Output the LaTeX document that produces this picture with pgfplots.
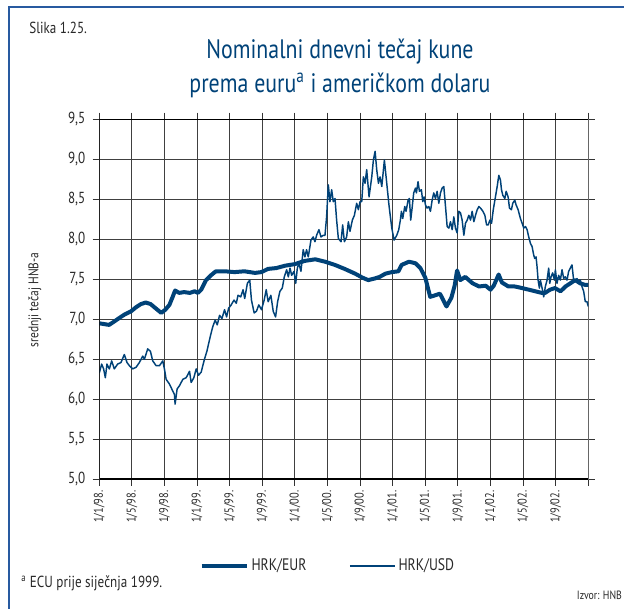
\documentclass[border=0pt]{standalone}
\usepackage{pgfplots}
\pgfplotsset{compat=1.18}
\usepackage{pgfplotstable}
\usepackage{fontspec}
\setmainfont{PT Sans}[FakeStretch=0.82]
\definecolor{hnb}{RGB}{0,66,120}
\definecolor{frameblue}{RGB}{40,90,160}
\definecolor{txt}{RGB}{40,40,40}

\pgfplotstableread{
m v
0 6.95
0.6 6.94
1.2 6.93
1.8 6.97
2.5 7.02
3.1 7.06
3.9 7.10
4.5 7.15
5.1 7.19
5.7 7.21
6.3 7.19
7.0 7.13
7.6 7.08
8.1 7.12
8.6 7.18
9.0 7.28
9.3 7.36
9.8 7.33
10.4 7.34
11.1 7.33
11.7 7.35
12.1 7.33
12.5 7.37
13.1 7.49
13.7 7.55
14.3 7.60
15.4 7.60
16.6 7.59
17.8 7.60
19.1 7.58
19.9 7.59
20.7 7.63
21.7 7.64
22.8 7.67
24.0 7.69
25.2 7.73
26.5 7.75
27.7 7.72
28.9 7.68
30.1 7.63
31.4 7.57
32.3 7.52
33.0 7.49
33.8 7.51
34.4 7.53
35.1 7.57
35.9 7.59
36.7 7.60
37.1 7.68
38.0 7.72
38.8 7.70
39.4 7.64
40.0 7.52
40.6 7.28
41.2 7.30
41.8 7.32
42.6 7.16
43.2 7.27
43.6 7.42
43.9 7.61
44.3 7.49
44.9 7.53
45.8 7.45
46.6 7.41
47.4 7.42
48.0 7.37
48.4 7.42
49.0 7.56
49.4 7.46
50.2 7.41
51.0 7.41
51.9 7.39
52.7 7.37
53.5 7.35
54.3 7.33
54.7 7.33
55.3 7.37
55.9 7.39
56.6 7.35
57.2 7.41
57.8 7.45
58.4 7.49
59.0 7.45
59.6 7.43
60.0 7.43
}\eur

\pgfplotstableread{
m v
0 6.33
0.29 6.44
0.53 6.38
0.74 6.27
0.94 6.44
1.23 6.38
1.52 6.48
1.84 6.38
2.25 6.44
2.66 6.46
3.07 6.56
3.40 6.46
3.69 6.42
4.10 6.38
4.51 6.40
4.92 6.46
5.33 6.54
5.53 6.50
5.94 6.63
6.27 6.60
6.56 6.48
6.97 6.42
7.38 6.42
7.79 6.48
7.99 6.38
8.20 6.25
8.61 6.19
8.89 6.13
9.22 6.06
9.30 5.94
9.55 6.13
9.84 6.17
10.25 6.25
10.66 6.27
11.07 6.35
11.27 6.21
11.60 6.27
11.89 6.38
12.17 6.30
12.5 6.34
12.9 6.50
13.2 6.60
13.65 6.80
13.93 6.91
14.22 6.99
14.47 6.93
14.76 7.05
15.05 7.01
15.37 7.12
15.62 7.03
15.87 7.14
16.12 7.17
16.53 7.24
16.81 7.20
17.02 7.30
17.35 7.28
17.64 7.37
17.84 7.26
18.17 7.45
18.46 7.49
18.67 7.24
19.00 7.08
19.28 7.10
19.57 7.18
19.90 7.12
20.23 7.24
20.48 7.37
20.72 7.22
21.05 7.30
21.34 7.10
21.63 7.03
21.88 7.22
22.16 7.35
22.45 7.39
22.70 7.53
22.99 7.62
23.19 7.53
23.40 7.64
23.60 7.55
23.89 7.60
24.1 7.45
24.3 7.64
24.49 7.70
24.74 7.60
25.02 7.87
25.23 7.78
25.43 7.87
25.64 7.78
25.97 7.99
26.25 8.03
26.46 7.97
26.66 8.05
26.95 8.12
27.20 8.03
27.48 8.05
27.69 8.05
27.89 8.28
28.10 8.68
28.30 8.47
28.51 8.62
28.71 8.47
28.92 8.51
29.12 8.24
29.33 8.01
29.66 7.97
29.86 8.18
30.07 7.97
30.35 8.03
30.56 8.22
30.76 8.10
31.05 8.24
31.30 8.30
31.58 8.45
31.79 8.37
31.99 8.47
32.20 8.47
32.40 8.78
32.61 8.70
32.81 8.87
33.10 8.53
33.43 8.78
33.63 8.99
33.84 9.10
34.04 8.87
34.25 8.70
34.45 8.78
34.66 8.66
34.98 8.99
35.27 8.70
35.56 8.41
35.89 8.14
36.17 7.99
36.5 8.05
36.74 8.12
36.94 8.24
37.07 8.35
37.23 8.26
37.48 8.41
37.64 8.35
37.89 8.49
38.05 8.51
38.21 8.24
38.38 8.39
38.58 8.58
38.79 8.64
38.91 8.58
39.11 8.72
39.28 8.60
39.52 8.62
39.69 8.47
39.85 8.53
40.02 8.43
40.22 8.39
40.43 8.41
40.63 8.35
40.84 8.49
41.04 8.58
41.25 8.51
41.45 8.60
41.66 8.45
41.86 8.58
42.07 8.64
42.27 8.66
42.48 8.41
42.68 8.16
42.89 8.14
43.09 8.22
43.30 8.12
43.50 8.28
43.70 8.14
43.91 8.08
44.11 8.35
44.32 8.33
44.52 8.24
44.73 8.05
44.93 8.20
45.14 8.24
45.34 8.30
45.55 8.24
45.75 8.35
45.96 8.22
46.16 8.30
46.37 8.37
46.57 8.41
46.78 8.39
47.07 8.35
47.31 8.30
47.52 8.18
47.72 8.18
47.93 8.24
48.13 8.20
48.34 8.37
48.54 8.49
48.82 8.66
49.02 8.80
49.22 8.74
49.35 8.62
49.51 8.55
49.76 8.51
49.92 8.60
50.16 8.53
50.33 8.39
50.57 8.37
50.73 8.45
50.98 8.49
51.14 8.43
51.39 8.37
51.67 8.26
51.88 8.20
52.08 8.14
52.29 8.16
52.49 8.12
52.69 8.03
52.90 7.95
53.10 7.91
53.31 7.80
53.43 7.76
53.59 7.78
53.71 7.66
53.84 7.49
54.00 7.39
54.12 7.49
54.33 7.39
54.53 7.28
54.73 7.41
54.94 7.49
55.14 7.64
55.27 7.45
55.43 7.53
55.63 7.58
55.84 7.49
55.96 7.62
56.16 7.45
56.37 7.55
56.57 7.49
56.78 7.62
56.98 7.51
57.18 7.53
57.39 7.49
57.59 7.60
57.80 7.64
58.00 7.68
58.20 7.49
58.41 7.47
58.61 7.51
58.82 7.47
59.02 7.49
59.22 7.41
59.43 7.35
59.63 7.22
59.84 7.22
60.0 7.16
}\usd

\begin{document}
\begin{tikzpicture}
\useasboundingbox (0,0) rectangle (470.25pt,456.75pt);
\draw[frameblue, line width=1pt] (6.75pt,0pt) -- (6.75pt,451.5pt) -- (468pt,451.5pt);
\node[anchor=west, text=txt, font=\fontsize{12}{14}\selectfont] at (18.5pt,435.75pt) {Slika 1.25.};
\node[text=hnb, font=\fontsize{20}{24}\selectfont] at (255pt,417.75pt) {Nominalni dnevni tečaj kune};
\node[text=hnb, font=\fontsize{20}{24}\selectfont] at (255pt,393pt) {prema euru\textsuperscript{a} i američkom dolaru};
\node[rotate=90, text=txt, font=\fontsize{10.5}{12}\selectfont] at (26pt,231.75pt) {srednji tečaj HNB-a};
\node[anchor=west, text=txt, font=\fontsize{12}{14}\selectfont] at (12.5pt,19.5pt) {\textsuperscript{a} ECU prije siječnja 1999.};
\node[anchor=east, text=txt, font=\fontsize{9}{10}\selectfont] at (470pt,10.5pt) {Izvor: HNB};

\begin{axis}[
  at={(74.475pt,97.275pt)}, anchor=south west,
  scale only axis, width=366.75pt, height=270pt,
  xmin=0, xmax=60, ymin=5, ymax=9.5,
  xtick={0,4,...,60},
  xticklabels={1/1/98.,1/5/98.,1/9/98.,1/1/99.,1/5/99.,1/9/99.,1/1/00.,1/5/00.,1/9/00.,1/1/01.,1/5/01.,1/9/01.,1/1/02.,1/5/02.,1/9/02.,{}},
  ytick={5,5.5,...,9.5},
  grid=major,
  major grid style={black!75, line width=0.7pt},
  axis line style={black!60, line width=0.8pt},
  tick align=outside,
  major tick length=5pt,
  tick style={black!80, line width=0.7pt},
  x tick label style={rotate=90, anchor=east, text=txt, font=\fontsize{9.5}{10}\selectfont},
  y tick label style={text=txt, font=\fontsize{12}{14}\selectfont, xshift=-2pt},
  yticklabel style={/pgf/number format/.cd, use comma, fixed, fixed zerofill, precision=1},
  /pgf/number format/assume math mode=true,
  legend columns=2,
  legend style={draw=none, fill=none, at={(axis description cs:0.468,-0.241)}, anchor=center,
    font=\fontsize{12.5}{14}\selectfont, text=txt,
    /tikz/every even column/.append style={column sep=30pt}},
  legend image code/.code={\draw[#1] (0pt,0pt) -- (34pt,0pt);},
]
\addplot[hnb, line width=3pt, line join=round] table[x=m, y=v] {\eur};
\addlegendentry{HRK/EUR}
\addplot[hnb, line width=1.1pt, line join=round] table[x=m, y=v] {\usd};
\addlegendentry{HRK/USD}
\draw[black, line width=1.6pt] (rel axis cs:0,1) -- (rel axis cs:0,0) -- (rel axis cs:1,0);
\draw[black, line width=0.8pt] (rel axis cs:0,1) -- (rel axis cs:1,1);
\end{axis}
\end{tikzpicture}
\end{document}
